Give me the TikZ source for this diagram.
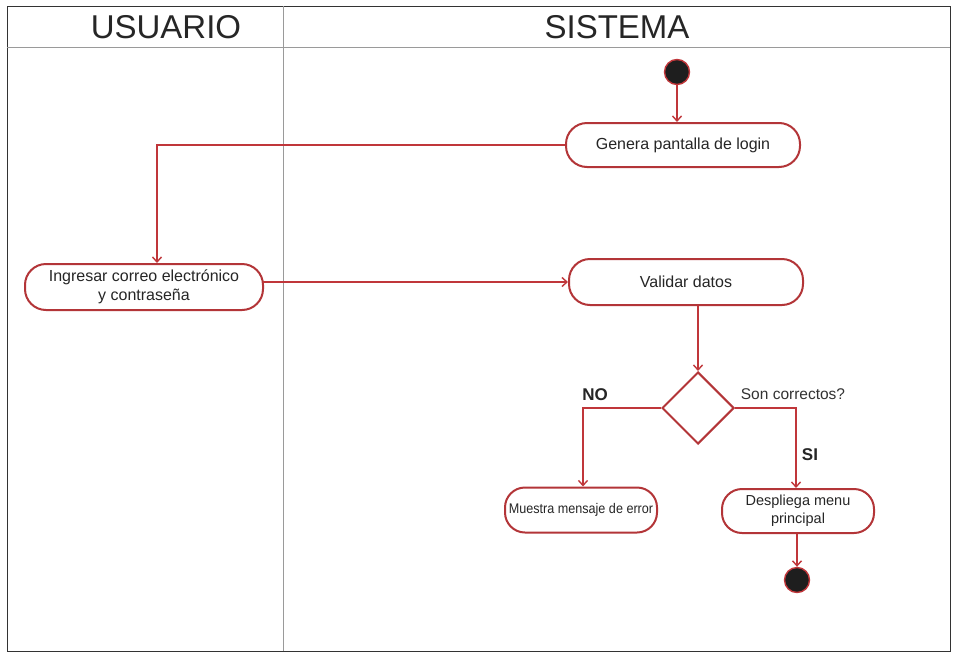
\documentclass[tikz,border=0pt]{standalone}
\usepackage{fontspec}
\setmainfont{Liberation Sans}
\usetikzlibrary{arrows.meta,shapes.geometric,calc}
\definecolor{flowred}{HTML}{C0363A}
\definecolor{boxred}{HTML}{B33538}
\definecolor{lanegray}{HTML}{9A9A9A}
\definecolor{dotfill}{HTML}{1E1E1E}
\tikzset{
  lane/.style={draw=lanegray, line width=0.9pt},
  frame/.style={draw=black!80, line width=1pt},
  header/.style={font=\fontsize{33}{36}\selectfont, text=black!85},
  activity/.style={draw=boxred, line width=2pt, rounded corners=21pt, fill=white,
    align=center, font=\fontsize{16}{19}\selectfont, text=black!85, inner sep=0pt},
  smallactivity/.style={activity, rounded corners=20pt, font=\fontsize{14.5}{18}\selectfont},
  decision/.style={draw=boxred, line width=2pt, diamond, minimum width=72pt,
    minimum height=72pt, inner sep=0pt, fill=white},
  terminal/.style={circle, fill=dotfill, draw=flowred, line width=1.4pt,
    minimum size=25pt, inner sep=0pt},
  flow/.style={draw=flowred, line width=1.8pt,
    -{Straight Barb[length=5pt,width=9pt,line width=1.4pt]}},
  guard/.style={font=\bfseries\fontsize{17}{19}\selectfont, text=black!85},
  note/.style={font=\fontsize{15.5}{18}\selectfont, text=black!80}
}
\begin{document}
\begin{tikzpicture}[x=1pt,y=-1pt]
  \useasboundingbox (0,0) rectangle (957,653);
  \fill[white] (0,0) rectangle (957,653);

  % swimlane frame
  \draw[frame] (7,6) -- (950,6) -- (950,651) -- (7,651) -- cycle;
  \draw[lane] (7,47) -- (950,47);
  \draw[lane] (283,6) -- (283,651);
  \node[header] (hU) at (166,27) {USUARIO};
  \node[header] (hS) at (617,27) {SISTEMA};

  % activities
  \node[terminal] (start) at (677,72) {};
  \node[activity, minimum width=234pt, minimum height=44pt] (login) at (683,145) {Genera pantalla de login};
  \node[activity, minimum width=238pt, minimum height=46pt] (input) at (144,287) {Ingresar correo electrónico\\y contraseña};
  \node[activity, minimum width=234pt, minimum height=46pt] (valid) at (686,282) {Validar datos};
  \node[decision] (check) at (698,408) {};
  \node[smallactivity, minimum width=152pt, minimum height=45pt] (error) at (581,510)
    {\fontsize{14}{16}\selectfont\scalebox{0.9}[1]{Muestra mensaje de error}};
  \node[smallactivity, minimum width=152pt, minimum height=44pt] (menu) at (798,511) {Despliega menu\\principal};
  \node[terminal] (stop) at (797,580) {};

  % helper points for routed connectors
  \coordinate (turnA) at (157,145);
  \coordinate (outA) at (263,282);
  \coordinate (turnNO) at (583,408);
  \coordinate (turnSI) at (796,408);

  % connectors
  \draw[flow] (start) -- (start |- login.north);
  \draw[flow] (login.west) -- (turnA) -- (turnA |- input.north);
  \draw[flow] (outA) -- (outA -| valid.west);
  \draw[flow] (check.north |- valid.south) -- (check.north);
  \draw[flow] (check.west) -- (turnNO) -- (turnNO |- error.north);
  \draw[flow] (check.east) -- (turnSI) -- (turnSI |- menu.north);
  \draw[flow] (stop |- menu.south) -- (stop);

  % guards
  \node[guard] (gNO) at (595,395) {NO};
  \node[note] (gQ) at (793,394) {Son correctos?};
  \node[guard] (gSI) at (810,455) {SI};
\end{tikzpicture}
\end{document}
